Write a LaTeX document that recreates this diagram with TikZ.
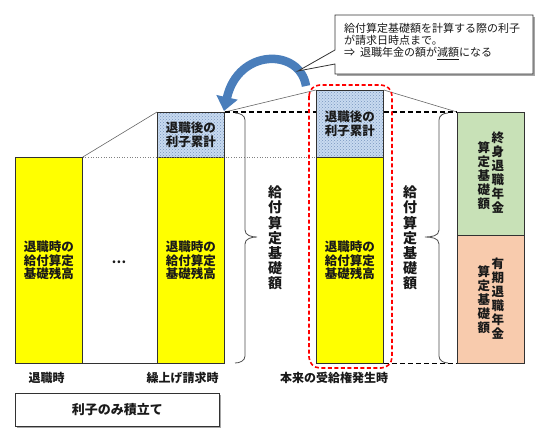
\documentclass[tikz,border=0pt]{standalone}
\usepackage{fontspec}
\setmainfont{Noto Sans CJK JP}
\usetikzlibrary{patterns,arrows.meta,calc}
\definecolor{ylw}{RGB}{255,255,0}
\definecolor{bluefill}{RGB}{200,218,240}
\definecolor{dotcol}{RGB}{120,150,190}
\definecolor{grn}{RGB}{200,225,183}
\definecolor{org}{RGB}{248,203,173}
\definecolor{arrowblue}{RGB}{74,126,187}
\definecolor{txt}{RGB}{25,25,25}
\definecolor{edge}{RGB}{50,50,50}
\tikzset{
  box/.style={draw=edge, line width=0.8pt, inner sep=0pt, anchor=north west, text=txt, align=center},
  bartxt/.style={font=\bfseries\fontsize{12.5}{13.8}\selectfont},
  vt/.style={text=txt, align=center, inner sep=0pt, font=\bfseries\fontsize{14}{15.2}\selectfont},
  vts/.style={text=txt, align=center, inner sep=0pt, font=\bfseries\fontsize{12.5}{14}\selectfont},
  lbl/.style={text=txt, inner sep=0pt, font=\bfseries\fontsize{12}{13}\selectfont},
  thinline/.style={draw=gray!80!black, line width=0.6pt},
  dashline/.style={draw=black, line width=1.2pt, dash pattern=on 5pt off 3pt},
  bracel/.style={draw=gray!60!black, line width=0.8pt},
}
\begin{document}
\begin{tikzpicture}[x=1pt,y=-1pt]
\useasboundingbox (0,0) rectangle (540,442);

% bars
\node[box, fill=ylw, minimum width=67pt, minimum height=206pt, bartxt] (b1) at (15,157) {退職時の\\給付算定\\基礎残高};
\node[box, fill=ylw, minimum width=67pt, minimum height=206pt, bartxt] (b2y) at (157,157) {退職時の\\給付算定\\基礎残高};
\node[box, fill=bluefill, minimum width=67pt, minimum height=45pt] (b2b) at (157,112) {};
\fill[pattern=crosshatch dots, pattern color=dotcol] (b2b.north west) rectangle (b2b.south east);
\draw[edge, line width=0.8pt] (b2b.north west) rectangle (b2b.south east);
\node[text=txt, align=center, bartxt] at (b2b.center) {退職後の\\利子累計};

\node[box, fill=ylw, minimum width=67pt, minimum height=206pt, bartxt] (b3y) at (316,157) {退職時の\\給付算定\\基礎残高};
\node[box, fill=bluefill, minimum width=67pt, minimum height=67pt] (b3b) at (316,90) {};
\fill[pattern=crosshatch dots, pattern color=dotcol] (b3b.north west) rectangle (b3b.south east);
\draw[edge, line width=0.8pt] (b3b.north west) rectangle (b3b.south east);
\node[text=txt, align=center, bartxt] at (b3b.center) {退職後の\\利子累計};

\node[box, fill=grn, minimum width=67pt, minimum height=123pt] (gr) at (457,112) {};
\node[box, fill=org, minimum width=67pt, minimum height=128pt] (or) at (457,235) {};
\node[vts] at ($(gr.center)+(7,-1)$) {終\\身\\退\\職\\年\\金};
\node[vts] at ($(gr.center)+(-7,2)$) {算\\定\\基\\礎\\額};
\node[vts] at ($(or.center)+(7,-1)$) {有\\期\\退\\職\\年\\金};
\node[vts] at ($(or.center)+(-7,0)$) {算\\定\\基\\礎\\額};

% connector lines
\draw[thinline] (b1.north east) -- (b2b.north west);
\draw[thinline] (b2b.north east) -- (b3b.north west);
\draw[thinline] (b3b.north east) -- (gr.north west);
\draw[draw=gray, line width=0.6pt, dotted] (b1.north east) -- (b3y.north west);
\draw[edge, line width=0.8pt] (b1.south east) -- (b2y.south west);
\draw[dashline] (b2b.north east) -- (b2b.north east -| b3b.west);
\draw[dashline] (b3b.east |- gr.north west) -- (gr.north west);
\draw[dashline] (b3y.south east) -- (or.south west);

% braces
\draw[bracel] (235,113) to[out=0,in=90] (245,120) -- (245,230) to[out=-90,in=180] (257,237)
  to[out=180,in=90] (245,244) -- (245,356) to[out=-90,in=0] (235,363);
\draw[bracel] (448,113) to[out=180,in=90] (439,120) -- (439,230) to[out=-90,in=0] (425,237)
  to[out=0,in=90] (439,244) -- (439,356) to[out=-90,in=180] (448,363);
\node[vt] (t1) at (275,238) {給\\付\\算\\定\\基\\礎\\額};
\node[vt] (t2) at (410,238) {給\\付\\算\\定\\基\\礎\\額};

% ellipsis
\node[text=txt, font=\bfseries\fontsize{13}{13}\selectfont, inner sep=0pt] (dots) at (119,262) {…};

% red highlight
\draw[red, line width=1.6pt, dash pattern=on 4pt off 2.5pt, rounded corners=11pt] (309,85) rectangle (392,368);

% blue curved arrow
\draw[arrowblue, line width=8.5pt, -{Triangle[width=21pt,length=14pt]}] (306,86) .. controls (300,48) and (238,48) .. (224,111);

% callout
\fill[gray!70] (337,17) rectangle (535,76);
\draw[edge, line width=0.8pt, fill=white] (335,15) -- (533,15) -- (533,74) -- (335,74) -- (335,64) -- (298,71) -- (335,50) -- cycle;
\node[text=txt, align=left, anchor=west, inner sep=0pt, font=\fontsize{11}{12.2}\selectfont] (note) at (344,41.5)
  {給付算定基礎額を計算する際の利子\\が請求日時点まで。\\⇒\ \ 退職年金の額が\underline{減額}になる};

% bottom labels
\node[lbl] (l1) at (46.5,378) {退職時};
\node[lbl] (l2) at (182.5,378) {繰上げ請求時};
\node[lbl] (l3) at (334,378) {本来の受給権発生時};

% bottom box
\fill[gray!70] (17,395) rectangle (221,428);
\node[box, fill=white, minimum width=204pt, minimum height=33pt, font=\bfseries\fontsize{13}{13}\selectfont] (bb) at (15,393) {利子のみ積立て};
\end{tikzpicture}
\end{document}
